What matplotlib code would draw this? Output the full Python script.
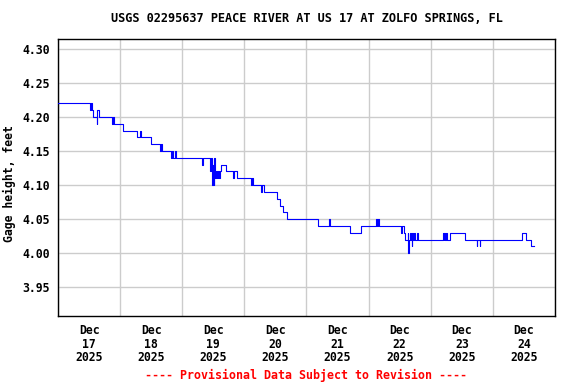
import matplotlib
matplotlib.use("Agg")
import matplotlib.pyplot as plt
import matplotlib.dates as mdates
import pandas as pd

# gage height change points: hours after 2025-12-17 00:00, value (ft)
hours = [0.0, 12.3, 12.7, 13.0, 13.6, 14.9, 15.0, 15.9, 20.7, 21.4, 21.6,
         25.0, 30.4, 31.6, 31.9, 35.8, 39.5, 39.9, 40.1, 43.7, 44.1, 44.5,
         45.1, 45.5, 55.6, 56.2, 58.7, 59.0, 59.4, 59.8, 60.1, 60.4, 60.8,
         61.0, 61.4, 61.8, 62.1, 62.5, 62.9, 64.8, 67.6, 68.0, 69.1, 74.5,
         74.8, 75.2, 78.4, 78.7, 79.4, 84.8, 85.9, 86.9, 88.5, 100.3, 104.7,
         105.1, 112.7, 117.1, 122.9, 123.3, 123.7, 124.1, 132.6, 133.0,
         133.5, 134.1, 135.2, 135.4, 135.6, 135.9, 136.3, 136.7, 136.9,
         137.2, 137.6, 138.0, 138.6, 139.0, 148.7, 149.0, 149.3, 149.6,
         150.0, 150.3, 151.3, 157.4, 161.7, 162.0, 162.9, 163.2, 179.1,
         180.7, 182.6, 184.0]
gage = [4.22, 4.21, 4.22, 4.21, 4.20, 4.19, 4.21, 4.20, 4.19, 4.20, 4.19,
        4.18, 4.17, 4.18, 4.17, 4.16, 4.15, 4.16, 4.15, 4.14, 4.15, 4.14,
        4.15, 4.14, 4.13, 4.14, 4.12, 4.14, 4.10, 4.13, 4.10, 4.14, 4.11,
        4.12, 4.11, 4.12, 4.11, 4.12, 4.13, 4.12, 4.11, 4.12, 4.11, 4.10,
        4.11, 4.10, 4.09, 4.10, 4.09, 4.08, 4.07, 4.06, 4.05, 4.04, 4.05,
        4.04, 4.03, 4.04, 4.05, 4.04, 4.05, 4.04, 4.03, 4.04,
        4.03, 4.02, 4.03, 4.00, 4.02, 4.03, 4.02, 4.01, 4.03,
        4.02, 4.03, 4.02, 4.03, 4.02, 4.03, 4.02, 4.03, 4.02,
        4.03, 4.02, 4.03, 4.02, 4.01, 4.02, 4.01, 4.02, 4.03,
        4.02, 4.01, 4.01]

title = "USGS 02295637 PEACE RIVER AT US 17 AT ZOLFO SPRINGS, FL"
footer = "---- Provisional Data Subject to Revision ----"
y_ticks = [3.95, 4.00, 4.05, 4.10, 4.15, 4.20, 4.25, 4.30]

start = pd.Timestamp("2025-12-17 00:00")
times = [start + pd.Timedelta(hours=h) for h in hours]

plt.rcParams["font.family"] = "DejaVu Sans Mono"
plt.rcParams["font.weight"] = "bold"
plt.rcParams["font.size"] = 8.3

fig = plt.figure(figsize=(5.76, 3.84), dpi=100)
ax = fig.add_axes([0.1007, 0.177, 0.8628, 0.721])

ax.plot(times, gage, color="#0000ff", lw=0.8, drawstyle="steps-post", zorder=3)

ax.set_xlim(start, start + pd.Timedelta(days=8))
ax.set_ylim(3.908, 4.314)
ax.set_yticks(y_ticks)
ax.set_yticklabels(["%.2f" % v for v in y_ticks])

ax.xaxis.set_major_locator(mdates.DayLocator())
ax.xaxis.set_major_formatter(plt.NullFormatter())
ax.xaxis.set_minor_locator(mdates.HourLocator(byhour=[12]))
ax.xaxis.set_minor_formatter(mdates.DateFormatter("%b\n%d\n%Y"))
ax.tick_params(axis="x", which="both", length=0, pad=6)
ax.tick_params(axis="y", length=0, pad=6)
for lab in ax.get_xticklabels(minor=True):
    lab.set_fontweight("bold")
    lab.set_linespacing(1.05)

ax.grid(True, which="major", color="#cccccc", lw=1.0)
ax.set_axisbelow(True)
for s in ax.spines.values():
    s.set_linewidth(1.0)
    s.set_color("black")

ax.set_ylabel("Gage height, feet", fontweight="bold")
ax.yaxis.set_label_coords(-0.085, 0.48)

# title and footer centred over the plot area
ax.text(0.5, 1 + 21 / 277, title, transform=ax.transAxes, ha="center",
        va="center", fontweight="bold", fontsize=8.6)
ax.text(0.5, -59 / 277, footer, transform=ax.transAxes, ha="center",
        va="center", color="red", fontweight="bold", fontsize=8.4)

fig.savefig("out.png", dpi=100)
